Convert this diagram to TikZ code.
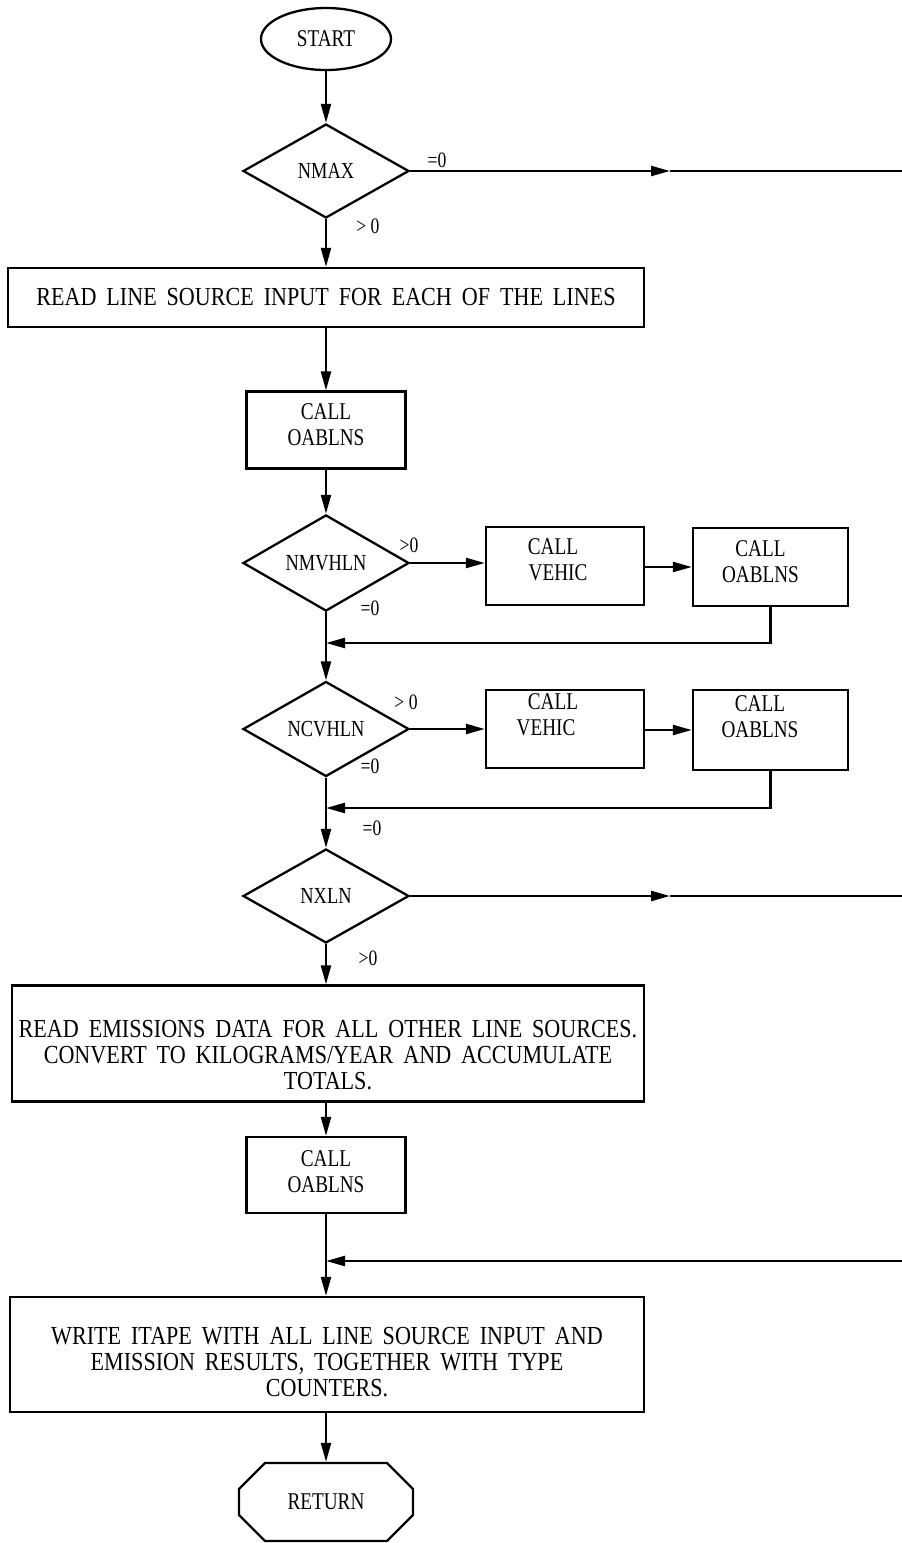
\documentclass[tikz,border=0pt]{standalone}
\usepackage{fontspec}
\setmainfont{Liberation Serif}
\newfontfamily\condf[FakeStretch=0.8]{Liberation Serif}
\newfontfamily\condw[FakeStretch=0.85,WordSpace=1.8]{Liberation Serif}
\usetikzlibrary{shapes.geometric,shapes.misc,arrows.meta}
\newcommand{\dn}[1]{\rule[-#1]{0pt}{#1}}
\newcommand{\up}[1]{\rule{0pt}{#1}}
\begin{document}
\begin{tikzpicture}[x=1pt,y=-1pt,
  line width=2.3pt,
  every node/.style={font=\condf\fontsize{24}{26}\selectfont},
  box/.style={draw, rectangle, inner sep=0pt, align=center},
  bigbox/.style={box, font=\condw\fontsize{26}{26}\selectfont},
  dec/.style={draw, diamond, inner sep=0pt, minimum width=166pt, minimum height=94pt, font=\condf\fontsize{23}{24}\selectfont},
  arr/.style={-{Triangle[length=19pt,width=10pt]}},
  lbl/.style={font=\condf\fontsize{22}{22}\selectfont, inner sep=0pt}]
\useasboundingbox (0,0) rectangle (902,1543);
% nodes
\node[draw, ellipse, minimum width=130pt, minimum height=62pt, inner sep=0pt] (start) at (326,39) {START};
\node[dec] (nmax) at (326,171) {NMAX};
\node[bigbox, minimum width=636pt, minimum height=59pt] (read1) at (326,297.5) {READ LINE SOURCE INPUT FOR EACH OF THE LINES};
\node[box, minimum width=159pt, minimum height=77pt] (oab1) at (326,430) {CALL\\OABLNS\dn{10pt}};
\node[dec] (nmv) at (326,563) {NMVHLN};
\node[box, minimum width=158pt, minimum height=78pt] (veh1) at (565,566) {CALL\hspace*{24pt}\\VEHIC\hspace*{14pt}\dn{12pt}};
\node[box, minimum width=155pt, minimum height=78pt] (oab2) at (770.5,567) {CALL\hspace*{20pt}\\OABLNS\hspace*{20pt}\dn{11pt}};
\node[dec, minimum height=95pt] (ncv) at (326,729) {NCVHLN};
\node[box, minimum width=158pt, minimum height=78pt] (veh2) at (565,729) {CALL\hspace*{24pt}\\VEHIC\hspace*{38pt}\dn{28pt}};
\node[box, minimum width=155pt, minimum height=80pt] (oab3) at (770.5,730) {CALL\hspace*{21pt}\\OABLNS\hspace*{21pt}\dn{27pt}};
\node[dec] (nxl) at (326,896) {NXLN};
\node[bigbox, minimum width=632pt, minimum height=116pt] (read2) at (328,1043.5) {\up{41pt}READ EMISSIONS DATA FOR ALL OTHER LINE SOURCES.\\CONVERT TO KILOGRAMS/YEAR AND ACCUMULATE\\TOTALS.};
\node[box, minimum width=159pt, minimum height=76pt] (oab4) at (326,1175) {CALL\\OABLNS\dn{6pt}};
\node[bigbox, minimum width=634pt, minimum height=115pt] (write) at (327,1354.5) {\up{33pt}WRITE ITAPE WITH ALL LINE SOURCE INPUT AND\\EMISSION RESULTS, TOGETHER WITH TYPE\\COUNTERS.};
\node[draw, chamfered rectangle, chamfered rectangle xsep=18pt, chamfered rectangle ysep=18pt, minimum width=174pt, minimum height=78pt, inner sep=0pt] (ret) at (326,1502) {RETURN};
% coordinates
\coordinate (m1) at (670,171);
\coordinate (r1) at (902,171);
\coordinate (m2) at (670,896);
\coordinate (r2) at (902,896);
\coordinate (j1) at (326,643);
\coordinate (j2) at (326,808);
\coordinate (j3) at (326,1261);
\coordinate (r3) at (902,1261);
% connectors
\draw[arr] (start) -- (nmax);
\draw[arr] (nmax.east) -- (m1);
\draw (m1) -- (r1);
\draw[arr] (nmax.south) -- (read1.north -| nmax.south);
\draw[arr] (read1.south -| oab1.north) -- (oab1.north);
\draw[arr] (oab1.south) -- (nmv.north);
\draw[arr] (nmv.east) -- (veh1.west |- nmv.east);
\draw[arr] (veh1.east |- oab2.west) -- (oab2.west);
\draw[arr] (oab2.south) |- (j1);
\draw[arr] (nmv.south) -- (ncv.north);
\draw[arr] (ncv.east) -- (veh2.west |- ncv.east);
\draw[arr] (veh2.east |- oab3.west) -- (oab3.west);
\draw[arr] (oab3.south) |- (j2);
\draw[arr] (ncv.south) -- (nxl.north);
\draw[arr] (nxl.east) -- (m2);
\draw (m2) -- (r2);
\draw[arr] (nxl.south) -- (read2.north -| nxl.south);
\draw[arr] (read2.south -| oab4.north) -- (oab4.north);
\draw[arr] (oab4.south) -- (write.north -| oab4.south);
\draw[arr] (r3) -- (j3);
\draw[arr] (write.south -| ret.north) -- (ret.north);
% labels
\node[lbl] (l1) at (437,160) {=0};
\node[lbl] (l2) at (368,226) {> 0};
\node[lbl] (l3) at (409,545) {>0};
\node[lbl] (l4) at (370,608) {=0};
\node[lbl] (l5) at (406,702) {> 0};
\node[lbl] (l6) at (370,766) {=0};
\node[lbl] (l7) at (372,828) {=0};
\node[lbl] (l8) at (368,958) {>0};
\end{tikzpicture}
\end{document}
